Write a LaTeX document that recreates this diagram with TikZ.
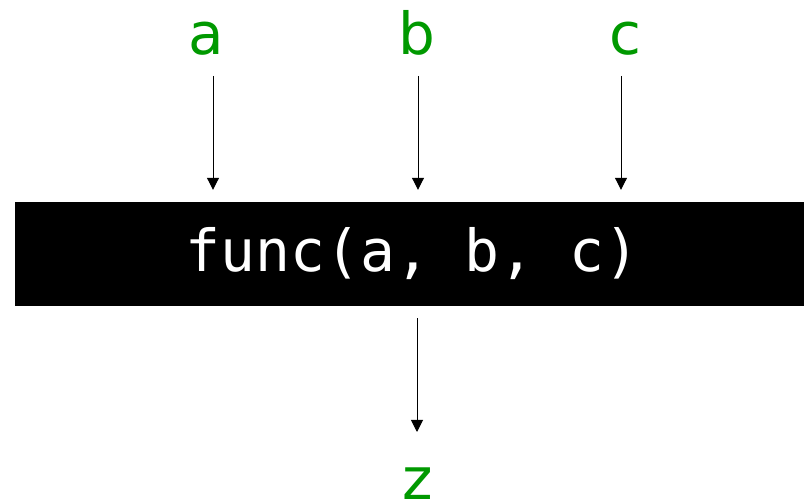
\documentclass[tikz,border=0pt]{standalone}
\usepackage{fontspec}
\newfontfamily\labelfont{DejaVu Sans}
\newfontfamily\codefont{DejaVu Sans Mono}
\usetikzlibrary{arrows.meta}
\definecolor{argreen}{RGB}{0,153,0}

\tikzset{
  arg/.style={text=argreen, anchor=base, inner sep=0pt, font=\labelfont\fontsize{58}{60}\selectfont},
  arr/.style={line width=1pt, -{Triangle[length=12pt,width=12pt]}}
}

\begin{document}
\begin{tikzpicture}[x=1pt,y=-1pt]
  \useasboundingbox (0,0) rectangle (804,502);

  % function box
  \node[fill=black, text=white, inner sep=0pt, minimum width=789pt, minimum height=104pt,
        font=\codefont\fontsize{58}{60}\selectfont] (fn) at (409.5,254) {\hspace*{6pt}func(a, b, c)};

  % arguments and result
  \node[arg] (a) at (206,55) {a};
  \node[arg] (b) at (417,55) {b};
  \node[arg] (c) at (625,55) {c};
  \node[arg] (z) at (418,500) {z};

  % arrows
  \coordinate (ta) at (213,76);
  \coordinate (tb) at (418,76);
  \coordinate (tc) at (621,76);
  \coordinate (tz) at (417,432);
  \draw[arr, shorten >=12pt] (ta) -- (ta |- fn.north);
  \draw[arr, shorten >=12pt] (tb) -- (tb |- fn.north);
  \draw[arr, shorten >=12pt] (tc) -- (tc |- fn.north);
  \draw[arr, shorten <=12pt] (fn.south -| tz) -- (tz);
\end{tikzpicture}
\end{document}
